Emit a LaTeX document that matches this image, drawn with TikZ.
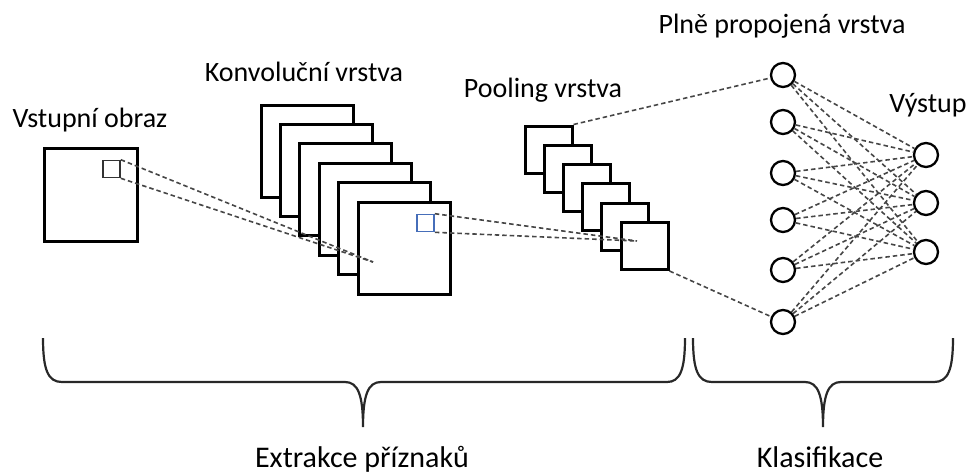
\documentclass[tikz,border=0pt]{standalone}
\usepackage{fontspec}
\setmainfont{Carlito}
\usepackage{xcolor}
\usepackage{tikz}
\definecolor{linkgray}{RGB}{70,70,70}
\definecolor{patchblue}{RGB}{70,110,185}
\definecolor{bracegray}{RGB}{40,40,40}
\tikzset{
  fmap/.style = {rectangle, draw=black, line width=3pt, fill=white, inner sep=0pt, minimum size=#1},
  fmap/.default = {92pt},
  patch/.style = {rectangle, draw=#1, line width=1.6pt, inner sep=0pt, minimum size=17pt},
  patch/.default = {black!80},
  neuron/.style = {circle, draw=black, line width=2.3pt, fill=white, inner sep=0pt, minimum size=24pt},
  link/.style = {draw=linkgray, line width=1.6pt, dash pattern=on 4.5pt off 3pt},
  lbl/.style = {font=\fontsize{28}{32}\selectfont, anchor=base, inner sep=0pt},
  bottomlbl/.style = {font=\fontsize{30}{34}\selectfont, anchor=base, inner sep=0pt},
  brace/.style = {draw=bracegray, line width=2.2pt}
}

\begin{document}
\begin{tikzpicture}[x=1pt, y=-1pt]
  \useasboundingbox (0,0) rectangle (967,475);

  % input image
  \node[fmap=93pt] (input) at (90.5,195) {};
  \node[patch] (inpatch) at (111.5,169) {};

  % convolution layer
  \foreach \i in {0,...,5}
    \node[fmap] (conv\i) at ({307+19.4*\i},{151+19.4*\i}) {};
  \node[patch=patchblue] (convpatch) at (425.5,223) {};
  \coordinate (convpt) at (373,262);

  % pooling layer
  \foreach \i in {0,...,5}
    \node[fmap=47pt] (pool\i) at ({548.5+19.2*\i},{149.5+19.3*\i}) {};
  \coordinate (poolpt) at (637,241);

  % fully connected and output
  \foreach \n/\y in {1/75, 2/122, 3/173, 4/220, 5/270, 6/322}
    \node[neuron] (fc\n) at (783,\y) {};
  \foreach \n/\y in {1/155, 2/203, 3/252}
    \node[neuron] (out\n) at (926,\y) {};

  \draw[link] (inpatch.north east) -- (convpt);
  \draw[link] (inpatch.south east) -- (convpt);
  \draw[link] (convpatch.north east) -- (poolpt);
  \draw[link] (convpatch.south east) -- (poolpt);
  \draw[link] (pool0.north east) -- (fc1);
  \draw[link] (pool5.south east) -- (fc6);

  \foreach \i in {1,...,6}
    \foreach \j in {1,2,3}
      \draw[link] (fc\i) -- (out\j);

  \node[lbl] (inlbl) at (90,127) {Vstupní obraz};
  \node[lbl] (convlbl) at (304,81) {Konvoluční vrstva};
  \node[lbl] (poollbl) at (543,97) {Pooling vrstva};
  \node[lbl] (fclbl) at (782,33) {Plně propojená vrstva};
  \node[lbl] (outlbl) at (928,112) {Výstup};

  % braces
  \draw[brace] (43,338) .. controls (43,370) and (48,382) .. (62,382) -- (345,382)
    .. controls (358,382) and (363,395) .. (363,427)
    .. controls (363,395) and (368,382) .. (381,382) -- (667,382)
    .. controls (680,382) and (685,370) .. (685,338);
  \draw[brace] (693,338) .. controls (693,370) and (698,382) .. (712,382) -- (805,382)
    .. controls (818,382) and (823,395) .. (823,427)
    .. controls (823,395) and (828,382) .. (841,382) -- (934,382)
    .. controls (948,382) and (953,370) .. (953,338);

  \node[bottomlbl] (extlbl) at (362,467) {Extrakce příznaků};
  \node[bottomlbl] (clslbl) at (820,467) {Klasifikace};
\end{tikzpicture}
\end{document}
